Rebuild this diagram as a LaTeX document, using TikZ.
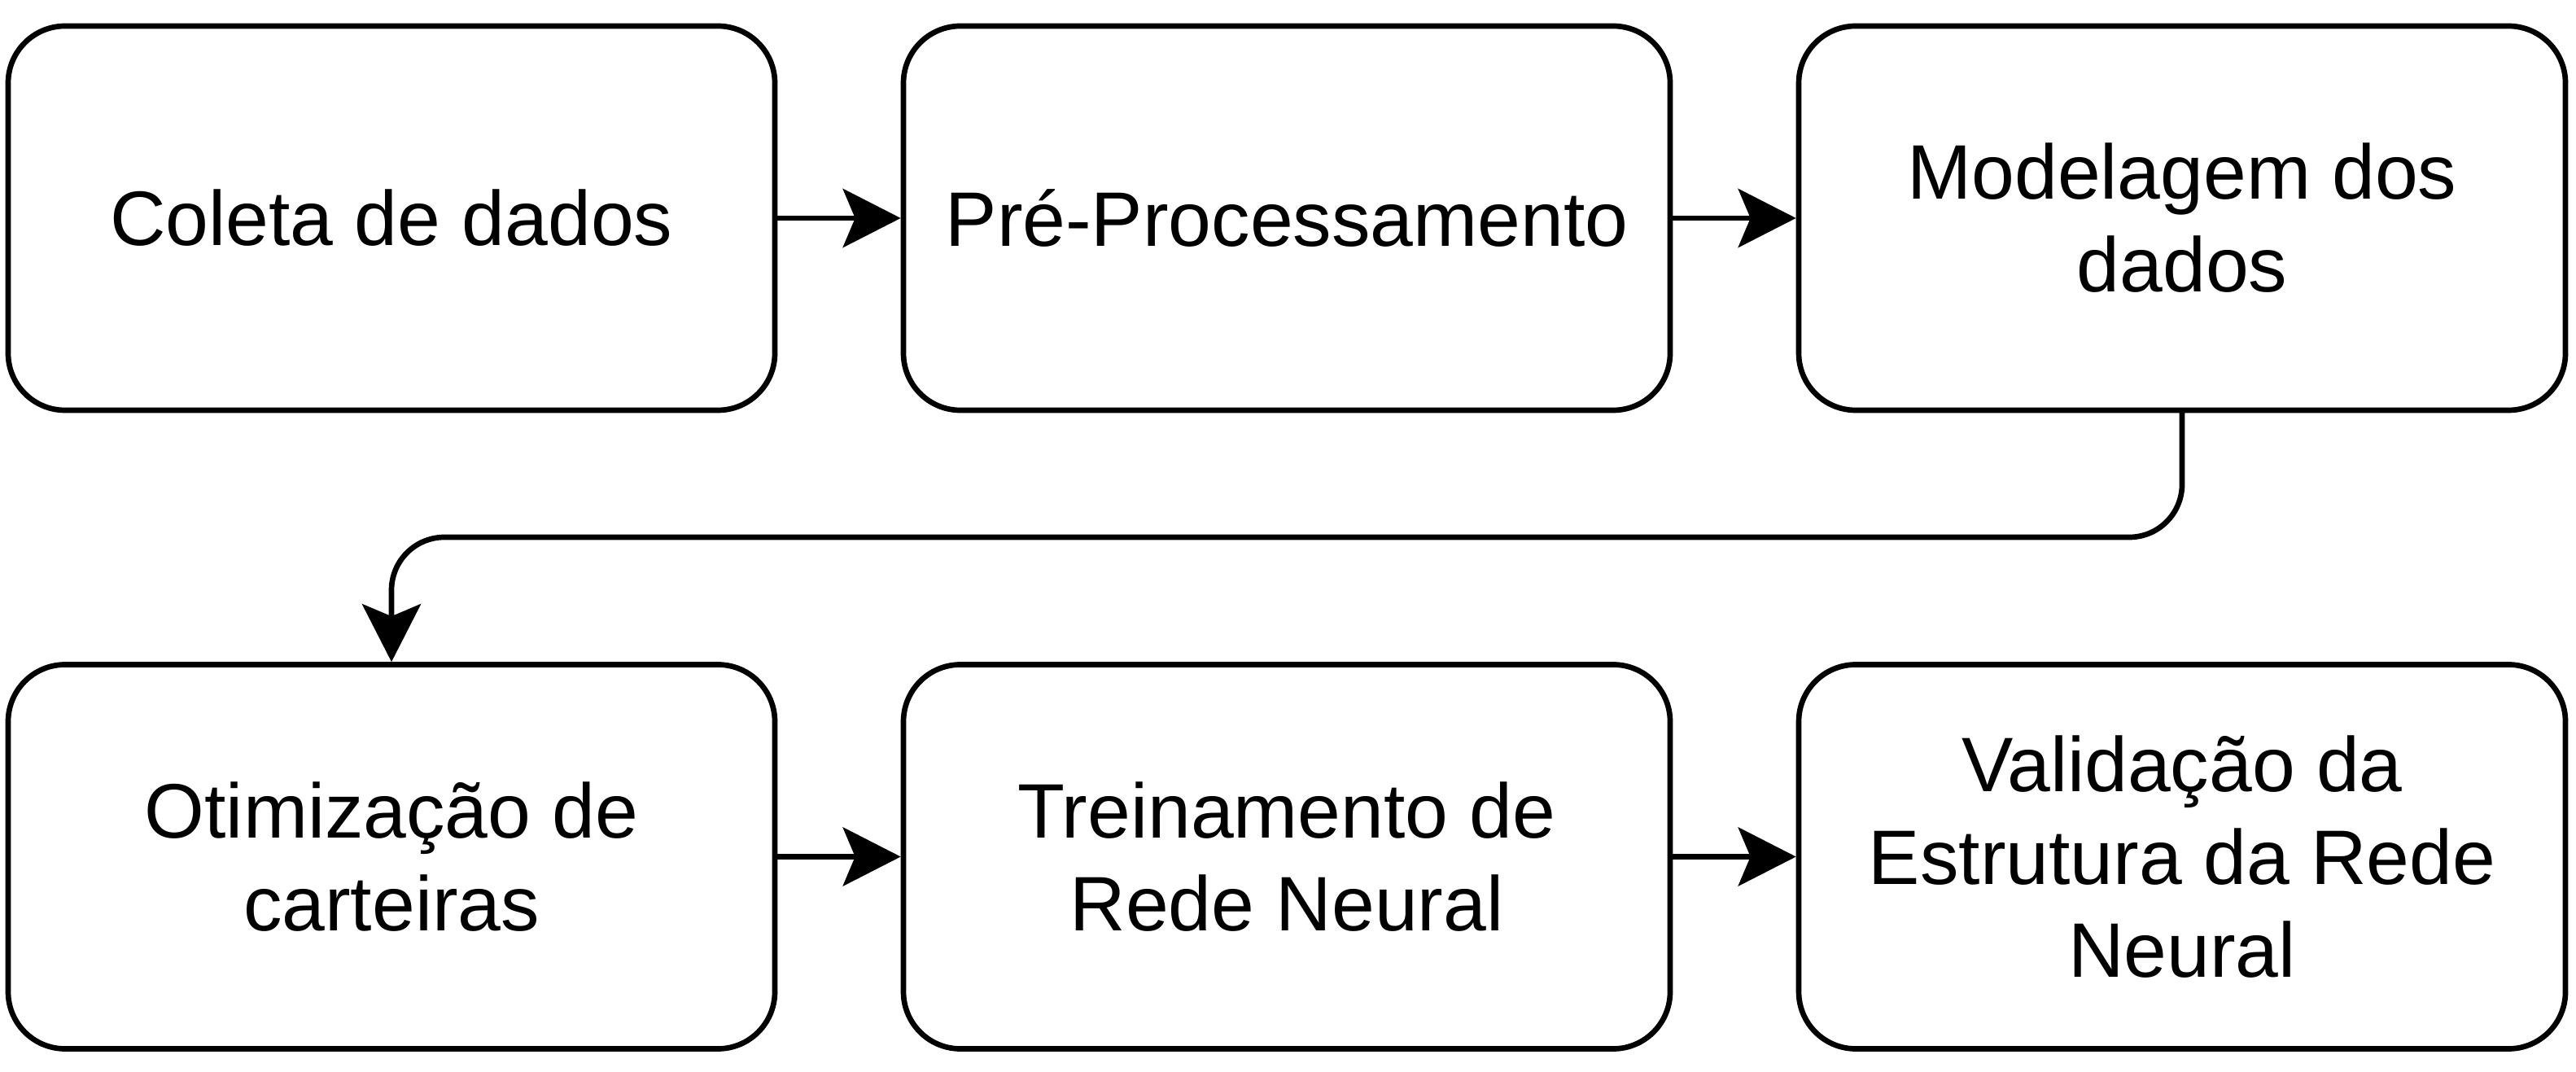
\documentclass[tikz,border=0pt]{standalone}
\usepackage{fontspec}
\setmainfont{Liberation Sans}
\usetikzlibrary{arrows.meta}
\begin{document}
\begin{tikzpicture}[line join=round, line cap=round,
  etapa/.style={draw, line width=1.9pt, rounded corners=0.7cm,
    minimum width=9.42cm, minimum height=4.72cm, align=center,
    font=\fontsize{27}{32.4}\selectfont},
  fluxo/.style={line width=1.9pt,
    -{Stealth[length=0.71cm, width=0.72cm, inset=0.15cm]}}]
\useasboundingbox (0,0) rectangle (31.65,13.16);
\path
(4.81,10.48) coordinate (A)
(15.81,10.48) coordinate (B)
(26.81,10.48) coordinate (C)
(4.81,2.635) coordinate (D)
(15.81,2.635) coordinate (E)
(26.81,2.635) coordinate (F)
(0,6.56) coordinate (meio)
;
\node[etapa] (coleta) at (A) {Coleta de dados};
\node[etapa] (preproc) at (B) {Pré-Processamento};
\node[etapa] (modelagem) at (C) {Modelagem dos\\dados};
\node[etapa] (otimizacao) at (D) {Otimização de\\carteiras};
\node[etapa] (treino) at (E) {Treinamento de\\Rede Neural};
\node[etapa] (validacao) at (F) {Validação da\\Estrutura da Rede\\Neural};
\draw[fluxo] (coleta) -- (preproc);
\draw[fluxo] (preproc) -- (modelagem);
\draw[fluxo, rounded corners=0.65cm] (modelagem.south) -- (modelagem.south |- meio)
  -- (otimizacao.north |- meio) -- (otimizacao.north);
\draw[fluxo] (otimizacao) -- (treino);
\draw[fluxo] (treino) -- (validacao);
\end{tikzpicture}
\end{document}
